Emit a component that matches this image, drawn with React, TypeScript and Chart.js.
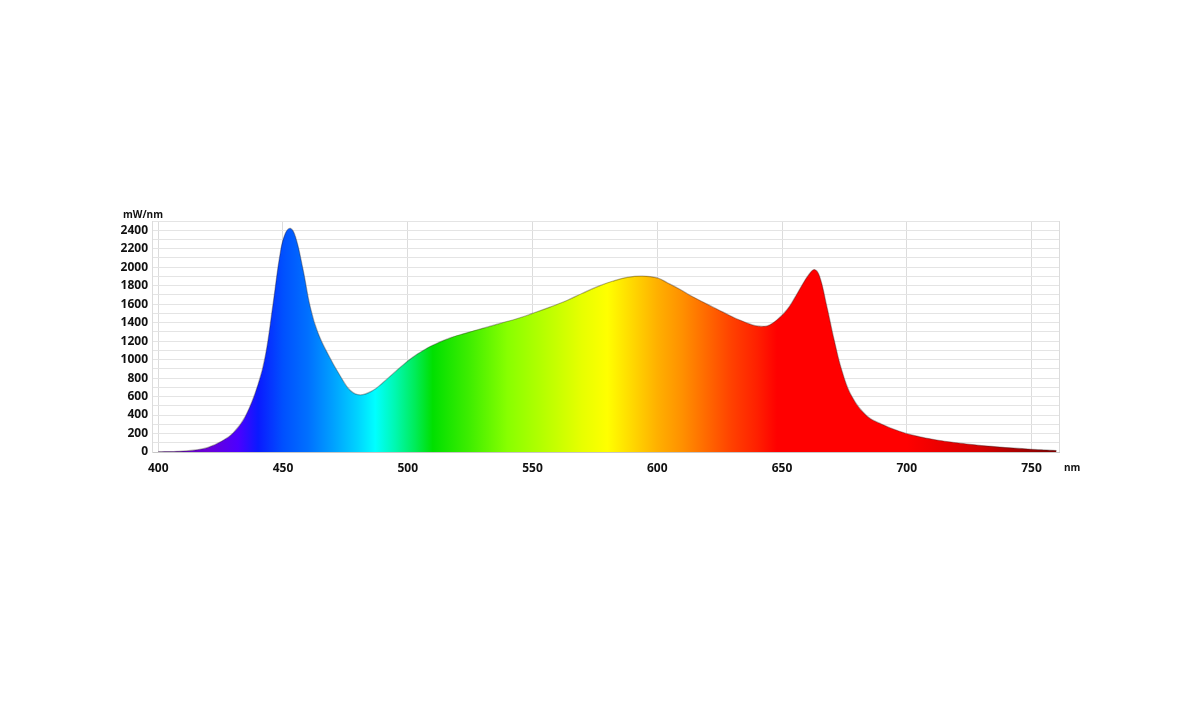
import React, { useEffect, useRef } from "react";
import { Chart, registerables } from "chart.js";

Chart.register(...registerables);

// Wavelength (nm)
const wavelengths = [
  400, 405, 410, 415, 420, 425, 430, 435, 440, 443, 446, 449, 451, 453, 455, 458,
  461, 464, 468, 473, 477, 481, 486, 490, 494, 498, 502, 506, 510, 517, 524, 530,
  537, 544, 550, 557, 564, 570, 577, 582, 588, 594, 600, 604, 609, 614, 620,
  625, 629, 633, 637, 640, 643, 645, 648, 652, 655, 658, 661, 663, 665, 668, 671,
  674, 678, 684, 690, 697, 704, 712, 720, 730, 740, 750, 760,
];

// Spectral power (mW/nm)
const power = [
  3, 5, 10, 22, 50, 110, 205, 390, 730, 1050, 1600, 2170, 2370, 2420, 2330, 1980,
  1560, 1290, 1060, 820, 665, 618, 665, 750, 845, 940, 1025, 1095, 1155, 1235, 1292, 1338,
  1392, 1445, 1500, 1568, 1643, 1718, 1800, 1848, 1890, 1904, 1884, 1832, 1762, 1682, 1600,
  1532, 1478, 1428, 1386, 1364, 1360, 1374, 1430, 1540, 1665, 1805, 1930, 1975, 1905, 1570, 1200,
  880, 600, 390, 300, 225, 172, 130, 100, 70, 48, 30, 16,
];

const xTickValues = [400, 450, 500, 550, 600, 650, 700, 750];
const yGridValues = [
  0, 100, 200, 300, 400, 500, 600, 700, 800, 900, 1000, 1100, 1200, 1300, 1400,
  1500, 1600, 1700, 1800, 1900, 2000, 2100, 2200, 2300, 2400, 2500,
];
const yLabelStep = 200;

// spectral colour stops (wavelength -> colour)
const spectrumNm = [400, 420, 432, 440, 450, 460, 470, 480, 487, 495, 503, 510, 525, 540, 555, 570, 580, 590, 600, 610, 620, 630, 640, 648, 700, 730, 761];
const spectrumColors = [
  "#5a00a8", "#6a00d8", "#4c00ff", "#0a1aff", "#0050ff", "#0070ff", "#00a0ff", "#00d4ff", "#00ffff",
  "#00f8b0", "#00ec58", "#00e000", "#40ee00", "#88ff00", "#b8ff00", "#e8ff00", "#ffff00", "#ffd800",
  "#ffb000", "#ff9000", "#ff6800", "#ff4000", "#ff2000", "#ff0000", "#ff0000", "#d40000", "#7a0000",
];

export default function App() {
  const ref = useRef<HTMLCanvasElement>(null);

  useEffect(() => {
    document.body.style.margin = "0";
    const canvas = ref.current;
    if (!canvas) return;

    const makeGradient = (chart: any) => {
      const { ctx, chartArea, scales } = chart;
      if (!chartArea) return "#ff0000";
      const xs = scales.x;
      const g = ctx.createLinearGradient(chartArea.left, 0, chartArea.right, 0);
      const w = chartArea.right - chartArea.left;
      spectrumNm.forEach((nm, i) => {
        const p = (xs.getPixelForValue(nm) - chartArea.left) / w;
        g.addColorStop(Math.min(1, Math.max(0, p)), spectrumColors[i]);
      });
      return g;
    };

    const edgePlugin = {
      id: "edges",
      beforeDatasetsDraw(chart: any) {
        const { ctx, chartArea } = chart;
        ctx.save();
        ctx.strokeStyle = "#dcdcdc";
        ctx.lineWidth = 1;
        ctx.beginPath();
        ctx.moveTo(chartArea.right + 0.5, chartArea.top);
        ctx.lineTo(chartArea.right + 0.5, chartArea.bottom);
        ctx.stroke();
        ctx.restore();
      },
    };

    const font = { family: "'Open Sans', 'DejaVu Sans', sans-serif", size: 12, weight: "bold" as const };

    const chart = new Chart(canvas, {
      type: "line",
      data: {
        datasets: [
          {
            data: wavelengths.map((w, i) => ({ x: w, y: power[i] })),
            fill: "origin",
            backgroundColor: (c: any) => makeGradient(c.chart),
            borderColor: "rgba(40,30,30,0.35)",
            borderWidth: 1.2,
            pointRadius: 0,
            tension: 0.4,
          },
        ],
      },
      options: {
        animation: false,
        responsive: true,
        maintainAspectRatio: false,
        layout: { padding: { left: 100, top: 221, right: 141, bottom: 226 } },
        plugins: { legend: { display: false }, tooltip: { enabled: false } },
        scales: {
          x: {
            type: "linear",
            min: 397.5,
            max: 761,
            afterBuildTicks: (s: any) => {
              s.ticks = xTickValues.map((v) => ({ value: v }));
            },
            afterFit: (s: any) => {
              s.height = 30;
            },
            grid: { color: "#dcdcdc", drawTicks: false, lineWidth: 1 },
            border: { display: true, color: "#c8c8c8" },
            ticks: { font, color: "#111", padding: 9, maxRotation: 0, autoSkip: false },
          },
          y: {
            type: "linear",
            min: 0,
            max: 2500,
            afterBuildTicks: (s: any) => {
              s.ticks = yGridValues.map((v) => ({ value: v }));
            },
            afterFit: (s: any) => {
              s.width = 52;
            },
            grid: { color: "#e4e4e4", drawTicks: false, lineWidth: 1 },
            border: { display: true, color: "#dcdcdc" },
            ticks: {
              font,
              color: "#111",
              padding: 4,
              autoSkip: false,
              callback: (v: any) => (Number(v) % yLabelStep === 0 ? String(v) : ""),
            },
          },
        },
      },
      plugins: [edgePlugin],
    });

    return () => chart.destroy();
  }, []);

  const labelStyle: React.CSSProperties = {
    position: "absolute",
    fontFamily: "'Open Sans', 'DejaVu Sans', sans-serif",
    fontWeight: 700,
    fontSize: 10,
    color: "#111",
    lineHeight: "12px",
    whiteSpace: "nowrap",
  };

  return (
    <div style={{ position: "relative", width: 1200, height: 708, background: "#fff" }}>
      <canvas ref={ref} />
      <span style={{ ...labelStyle, left: 123, top: 208 }}>mW/nm</span>
      <span style={{ ...labelStyle, left: 1064, top: 461 }}>nm</span>
    </div>
  );
}
